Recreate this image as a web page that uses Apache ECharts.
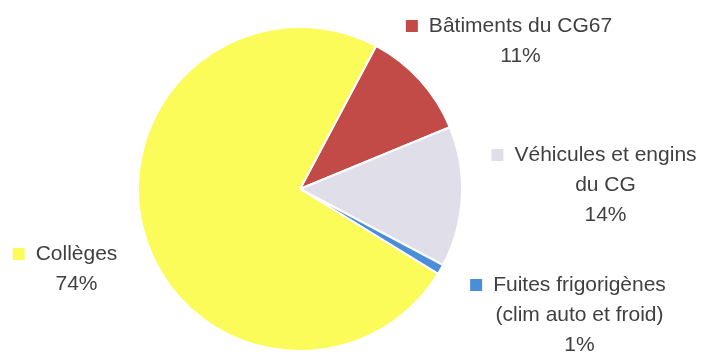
<!DOCTYPE html>
<html>
<head>
<meta charset="utf-8">
<script src="https://cdn.jsdelivr.net/npm/echarts@6/dist/echarts.min.js"></script>
<style>
html,body{margin:0;padding:0;background:#fff;}
#chart{width:706px;height:354px;}
</style>
</head>
<body>
<div id="chart"></div>
<script>
// Data
const categories = ['Bâtiments du CG67', 'Véhicules et engins\ndu CG', 'Fuites frigorigènes\n(clim auto et froid)', 'Collèges'];
const values = [11, 14, 1, 74];
const colors = ['#C24B48', '#DFDEE9', '#4A8ED9', '#FBFB5A'];

// Label block anchors (center x, top y)
const labelAnchors = [[509, 11], [594, 140], [568, 270], [65, 239]];

const chart = echarts.init(document.getElementById('chart'), null, {renderer: 'canvas'});

const data = categories.map((c, i) => ({
  name: c,
  value: values[i],
  itemStyle: {color: colors[i]}
}));

chart.setOption({
  animation: false,
  backgroundColor: '#ffffff',
  series: [{
    type: 'pie',
    center: [300, 189],
    radius: 162,
    startAngle: 62,
    clockwise: true,
    data: data,
    itemStyle: {borderColor: '#ffffff', borderWidth: 2},
    labelLine: {show: false},
    label: {
      show: true,
      position: 'outside',
      overflow: 'none',
      width: null,
      fontFamily: 'Liberation Sans',
      fontSize: 21,
      color: '#404040',
      lineHeight: 30,
      formatter: function (p) {
        const lines = p.name.split('\n');
        let s = '{sq' + p.dataIndex + '|}{gap|}{t|' + lines[0] + '}';
        for (let k = 1; k < lines.length; k++) s += '\n{sp|}{t|' + lines[k] + '}';
        s += '\n{sp|}{t|' + p.value + '%}';
        return s;
      },
      rich: {
        sq0: {width: 12, height: 12, backgroundColor: colors[0]},
        sq1: {width: 12, height: 12, backgroundColor: colors[1]},
        sq2: {width: 12, height: 12, backgroundColor: colors[2]},
        sq3: {width: 12, height: 12, backgroundColor: colors[3]},
        gap: {width: 11},
        sp: {width: 23},
        t: {fontFamily: 'Liberation Sans', fontSize: 21, color: '#404040', lineHeight: 30}
      }
    },
    labelLayout: function (p) {
      const a = labelAnchors[p.dataIndex];
      return {x: a[0], y: a[1], align: 'center', verticalAlign: 'top', hideOverlap: false};
    }
  }]
});
</script>
</body>
</html>
